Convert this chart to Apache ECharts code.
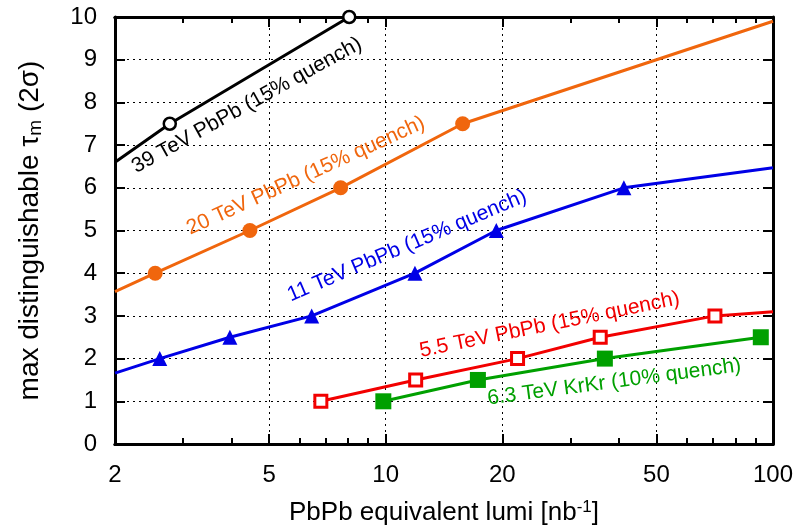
<!DOCTYPE html>
<html><head><meta charset="utf-8">
<script src="https://cdn.jsdelivr.net/npm/echarts@6/dist/echarts.min.js"></script>
<style>html,body{margin:0;padding:0;background:#fff}#c{width:807px;height:525px}</style>
</head><body><div id="c"></div>
<script>
// ---- data ----
const xTicks = [2, 5, 10, 20, 50, 100];
const xMinorTicks = [3, 4, 6, 7, 8, 9, 30, 40, 60, 70, 80, 90];
const xGridValues = [5, 10, 20, 50];
const yMin = 0, yMax = 10, yStep = 1;
const xMin = 2, xMax = 100;

const pbpb39 = [[2, 6.6], [2.77, 7.5], [8.05, 10]];
const pbpb20 = [[2, 3.57], [2.54, 4], [4.46, 5], [7.65, 6], [15.8, 7.5], [100, 9.9]];
const pbpb11 = [[2, 1.66], [2.61, 2], [3.96, 2.5], [6.44, 3], [11.9, 4], [19.3, 5], [41.2, 6], [100, 6.47]];
const pbpb55 = [[6.8, 1], [11.95, 1.5], [21.9, 2], [35.8, 2.5], [70.8, 3], [100, 3.1]];
const krkr63 = [[9.86, 1], [17.3, 1.5], [36.8, 2], [93, 2.5]];

const labelTexts = ['39 TeV PbPb (15% quench)', '20 TeV PbPb (15% quench)', '11 TeV PbPb (15% quench)',
                    '5.5 TeV PbPb (15% quench)', '6.3 TeV KrKr (10% quench)'];

// ---- styles / layout ----
const FONT = '"Liberation Sans", Arial, Helvetica, sans-serif';
const C = { black: '#000000', orange: '#f0660d', blue: '#0000e6', red: '#f20000', green: '#00a000' };
// annotation anchors (data coordinates) and rotation
const annot = [
  { x: 4.38, y: 7.93, angle: 29, color: C.black },
  { x: 6.22, y: 6.28, angle: 24.5, color: C.orange },
  { x: 11.35, y: 4.64, angle: 23, color: C.blue },
  { x: 26.5, y: 2.79, angle: 11.5, color: C.red },
  { x: 38.9, y: 1.45, angle: 7.5, color: C.green }
];

function pts(arr) {
  return arr.map(p => {
    const edge = (p[0] === xMin || p[0] === xMax);
    return edge ? { value: p, symbol: 'none' } : { value: p };
  });
}

function mkSeries(name, data, color, symbol, size, open) {
  return {
    name, type: 'line', data: pts(data), xAxisIndex: 0, yAxisIndex: 0,
    symbol, symbolSize: size, showAllSymbol: true, z: 3,
    lineStyle: { color, width: 3 },
    itemStyle: open ? { color: '#ffffff', borderColor: color, borderWidth: open } : { color, borderWidth: 0 },
    emphasis: { disabled: true }, animation: false
  };
}

const chart = echarts.init(document.getElementById('c'), null, { renderer: 'canvas' });

const axisLine = { show: true, onZero: false, lineStyle: { color: '#000', width: 3 } };
const majorTick = { show: true, inside: true, length: 10, lineStyle: { color: '#000', width: 2 } };
const minorTickStyle = { show: true, inside: true, length: 6, lineStyle: { color: '#000', width: 2 } };

function xAx(pos, major, withLabel) {
  const ax = {
    type: 'log', logBase: 10, min: xMin, max: xMax, position: pos,
    axisLine: axisLine,
    axisTick: Object.assign({}, major ? majorTick : minorTickStyle, { customValues: major ? xTicks : xMinorTicks }),
    axisLabel: withLabel ? { show: true, customValues: xTicks, fontFamily: FONT, fontSize: 24, color: '#000', margin: 19, formatter: v => String(v) } : { show: false },
    splitLine: { show: false }
  };
  if (withLabel) {
    ax.name = '{t|PbPb equivalent lumi [nb}{p|-1}{t|]}';
    ax.nameLocation = 'middle';
    ax.nameGap = 55;
    ax.nameTextStyle = { fontFamily: FONT, fontSize: 26, color: '#000',
      rich: { t: { fontFamily: FONT, fontSize: 26, color: '#000' }, p: { fontFamily: FONT, fontSize: 17, color: '#000', padding: [0, 0, 11, 0] } } };
  }
  return ax;
}

const option = {
  animation: false,
  backgroundColor: '#ffffff',
  grid: { left: 115, right: 34, top: 17, bottom: 81, containLabel: false, outerBoundsMode: 'none' },
  xAxis: [xAx('bottom', true, true), xAx('bottom', false, false), xAx('top', true, false), xAx('top', false, false)],
  yAxis: [
    {
      type: 'value', min: yMin, max: yMax, interval: yStep, position: 'left',
      axisLine: axisLine, axisTick: majorTick,
      axisLabel: { fontFamily: FONT, fontSize: 24, color: '#000', margin: 18 },
      splitLine: { show: true, lineStyle: { color: '#000', width: 1, type: [2, 4] } },
      name: '{t|max distinguishable τ}{s|m}{t| (2σ)}',
      nameLocation: 'middle', nameGap: 70, nameRotate: 90,
      nameTextStyle: { fontFamily: FONT, fontSize: 28, color: '#000',
        rich: { t: { fontFamily: FONT, fontSize: 28, color: '#000' }, s: { fontFamily: FONT, fontSize: 19, color: '#000', padding: [11, 0, 0, 0] } } }
    },
    {
      type: 'value', min: yMin, max: yMax, interval: yStep, position: 'right',
      axisLine: axisLine, axisTick: majorTick, axisLabel: { show: false }, splitLine: { show: false }
    }
  ],
  series: [
    {
      type: 'line', data: [], xAxisIndex: 0, yAxisIndex: 0, silent: true, z: 1,
      markLine: {
        silent: true, symbol: 'none', z: 1, animation: false,
        label: { show: false },
        lineStyle: { color: '#000', width: 1, type: [2, 4] },
        emphasis: { disabled: true },
        data: xGridValues.map(v => ({ xAxis: v }))
      }
    },
    mkSeries('39 TeV PbPb', pbpb39, C.black, 'circle', 12, 2.5),
    mkSeries('20 TeV PbPb', pbpb20, C.orange, 'circle', 15, 0),
    mkSeries('11 TeV PbPb', pbpb11, C.blue, 'triangle', 15, 0),
    mkSeries('5.5 TeV PbPb', pbpb55, C.red, 'rect', 12, 3),
    mkSeries('6.3 TeV KrKr', krkr63, C.green, 'rect', 16, 0)
  ]
};
chart.setOption(option);

const graphics = annot.map((a, i) => {
  const p = chart.convertToPixel({ xAxisIndex: 0, yAxisIndex: 0 }, [a.x, a.y]);
  return {
    type: 'text', x: p[0], y: p[1], rotation: a.angle * Math.PI / 180, z: 10,
    style: { text: labelTexts[i], fill: a.color, font: '21px ' + FONT, align: 'center', verticalAlign: 'middle' }
  };
});
chart.setOption({ graphic: graphics });
</script></body></html>
